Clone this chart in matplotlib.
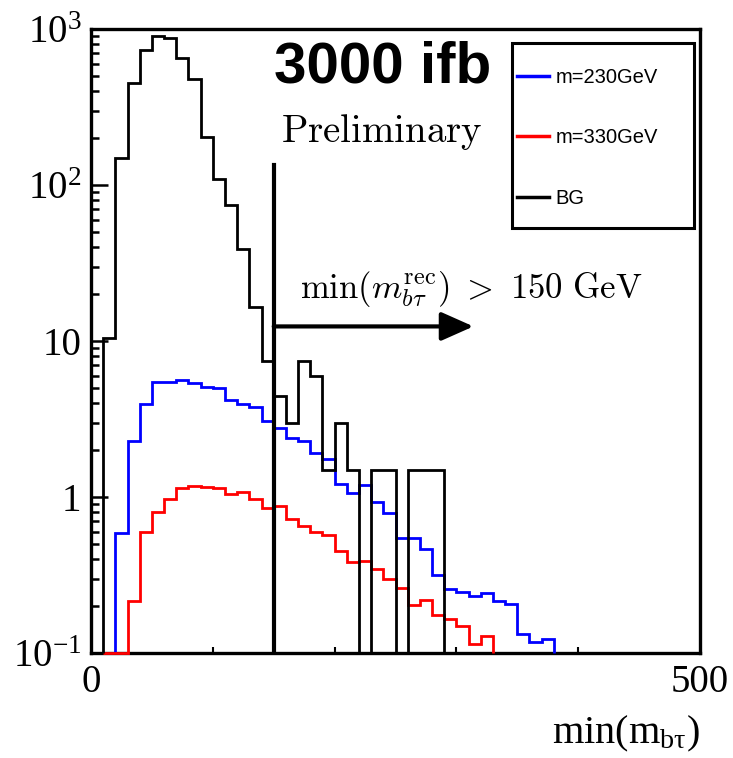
import numpy as np
import matplotlib
matplotlib.use('Agg')
import matplotlib.pyplot as plt
from matplotlib.lines import Line2D
from matplotlib.patches import Rectangle
from matplotlib.ticker import LogLocator, NullFormatter

# histogram contents, 10 GeV bins from 0 to 500
bin_edges = np.arange(0, 510, 10)

bg = [0, 10.4, 148, 453, 733, 902, 872, 649, 476, 204,
      110, 74.5, 38.7, 16.4, 7.4, 4.47, 2.98, 7.45, 5.96, 1.49,
      2.98, 1.49, 0, 1.49, 1.49, 0, 1.49, 1.49, 1.49] + [0] * 21

m230 = [0, 0, 0.59, 2.29, 3.94, 5.5, 5.5, 5.6, 5.4, 5.1,
        5.0, 4.19, 3.94, 3.76, 3.07, 2.77, 2.38, 2.30, 1.92, 1.75,
        1.21, 1.06, 1.19, 0.93, 0.785, 0.546, 0.546, 0.467, 0.316, 0.256,
        0.247, 0.232, 0.241, 0.214, 0.207, 0.132, 0.117, 0.123] + [0] * 12

m330 = [0, 0.03, 0.03, 0.216, 0.594, 0.805, 0.97, 1.15, 1.17, 1.16,
        1.14, 1.05, 1.08, 0.966, 0.853, 0.879, 0.72, 0.652, 0.594, 0.57,
        0.451, 0.385, 0.39, 0.344, 0.296, 0.26, 0.203, 0.219, 0.175, 0.164,
        0.15, 0.115, 0.129] + [0] * 17

labels = ['m=230GeV', 'm=330GeV', 'BG']
colors = ['blue', 'red', 'black']

cut = 150
cut_top = 134
arrow_y = 12.4
arrow_end = 314

ymin, ymax = 0.1, 1000

plt.rcParams['font.family'] = 'Liberation Serif'
plt.rcParams['mathtext.fontset'] = 'custom'
plt.rcParams['mathtext.rm'] = 'Liberation Serif'
plt.rcParams['mathtext.it'] = 'Liberation Serif:italic'


def draw_hist(ax, vals, color):
    vals = np.asarray(vals, dtype=float)
    nz = np.nonzero(vals)[0]
    i0, i1 = nz[0], nz[-1] + 1
    v = np.clip(vals[i0:i1], ymin, None)
    ax.stairs(v, bin_edges[i0:i1 + 1], baseline=ymin, color=color,
              lw=2.0, clip_on=False, zorder=3)


fig = plt.figure(figsize=(7.33, 7.58), dpi=100)
ax = fig.add_axes([91 / 733, 1 - 653 / 758, 609 / 733, 624 / 758])

for vals, c in zip([m230, m330, bg], colors):
    draw_hist(ax, vals, c)

ax.set_yscale('log')
ax.set_xlim(0, 500)
ax.set_ylim(ymin, ymax)

# cut line + arrow
ax.plot([cut, cut], [ymin, cut_top], color='k', lw=3, zorder=4)
ax.annotate('', xy=(arrow_end, arrow_y), xytext=(cut, arrow_y),
            arrowprops=dict(arrowstyle='-|>,head_length=0.9,head_width=0.4',
                            lw=3, color='k', mutation_scale=22,
                            shrinkA=0, shrinkB=0), zorder=4)

ax.set_yticks([0.1, 1, 10, 100, 1000],
              labels=[r'$10^{-1}$', '1', '10', r'$10^{2}$', r'$10^{3}$'])
ax.yaxis.set_minor_locator(LogLocator(base=10, subs=np.arange(2, 10)))
ax.yaxis.set_minor_formatter(NullFormatter())
ax.set_xticks([0, 500], labels=['0', '500'])
ax.set_xticks([100, 200, 300, 400], minor=True)

ax.tick_params(axis='y', which='major', direction='in', length=12, width=1.8,
               labelsize=28, pad=7)
ax.tick_params(axis='y', which='minor', direction='in', length=6, width=1.8)
ax.tick_params(axis='x', which='major', direction='in', length=0,
               labelsize=28, pad=8)
ax.tick_params(axis='x', which='minor', direction='in', length=4, width=1.5)
for s in ax.spines.values():
    s.set_linewidth(2.4)

# texts
ax.text(0.479, 0.939, '3000 ifb', transform=ax.transAxes, ha='center',
        va='center', fontsize=42, fontweight='bold', family='Liberation Sans')
ax.text(0.478, 0.819, r'$\mathrm{Preliminary}$', transform=ax.transAxes,
        ha='center', va='baseline', fontsize=28, math_fontfamily='cm')
ax.text(0.343, 0.569, r'$\mathrm{min}(m_{b\tau}^{\mathrm{rec}})\ >\ 150\ \mathrm{GeV}$',
        transform=ax.transAxes, ha='left', va='baseline', fontsize=25,
        math_fontfamily='cm')

fig.text(700 / 733, 0.005, r'$\mathrm{min(m}_{\mathrm{b\tau}}\mathrm{)}$',
         ha='right', va='bottom', fontsize=29)

# legend: box drawn separately so the padding can differ per side
ax.add_patch(Rectangle((0.6913, 0.6811), 0.2988, 0.2965, transform=ax.transAxes,
                       facecolor='white', edgecolor='black', lw=2.2, zorder=5))
handles = [Line2D([], [], color=c, lw=2.5) for c in colors]
leg = ax.legend(handles, labels, loc='upper left',
                bbox_to_anchor=(0.6995, 0.9375), borderaxespad=0,
                frameon=False, fontsize=14.5, handlelength=1.6,
                handletextpad=0.3, borderpad=0, labelspacing=2.05)
leg.set_zorder(6)
for t in leg.get_texts():
    t.set_family('Liberation Sans')
    t.set_fontsize(14.5)

fig.savefig('out.png', dpi=100)
